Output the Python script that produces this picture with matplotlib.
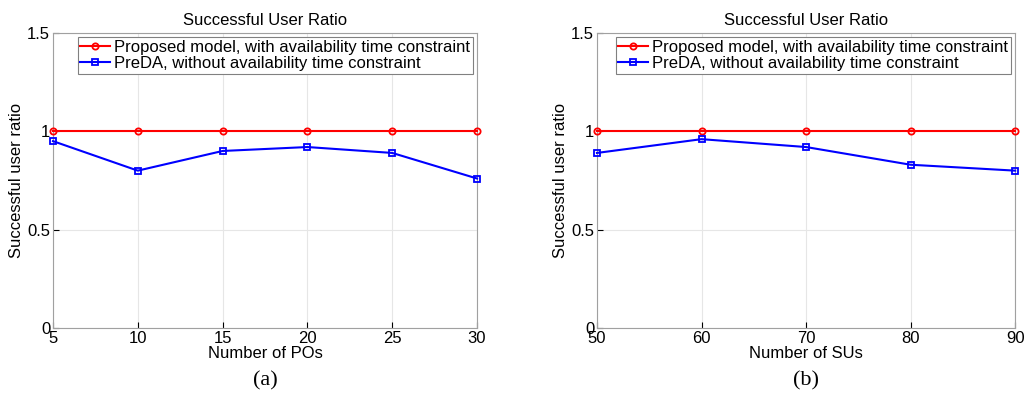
import matplotlib
matplotlib.use("Agg")
import matplotlib.pyplot as plt

plt.rcParams["font.family"] = ["Liberation Sans", "DejaVu Sans"]

pos_x = [5, 10, 15, 20, 25, 30]
pos_proposed = [1, 1, 1, 1, 1, 1]
pos_preda = [0.95, 0.80, 0.90, 0.92, 0.89, 0.76]

su_x = [50, 60, 70, 80, 90]
su_proposed = [1, 1, 1, 1, 1]
su_preda = [0.89, 0.96, 0.92, 0.83, 0.80]

fig = plt.figure(figsize=(10.25, 3.95), dpi=100)
ax1 = fig.add_axes([0.0517, 0.1696, 0.4137, 0.747])
ax2 = fig.add_axes([0.5824, 0.1696, 0.408, 0.747])

panels = [
    (ax1, pos_x, pos_proposed, pos_preda, "Number of POs", "(a)"),
    (ax2, su_x, su_proposed, su_preda, "Number of SUs", "(b)"),
]

for ax, x, prop, preda, xlabel, tag in panels:
    ax.plot(x, prop, color="red", marker="o", ms=4.5, mfc="none", mew=1.3,
            lw=1.5, clip_on=False, zorder=3,
            label="Proposed model, with availability time constraint")
    ax.plot(x, preda, color="blue", marker="s", ms=4.5, mfc="none", mew=1.3,
            lw=1.5, clip_on=False, zorder=3,
            label="PreDA, without availability time constraint")
    ax.set_xlim(x[0], x[-1])
    ax.set_ylim(0, 1.5)
    ax.set_xticks(x)
    ax.set_yticks([0, 0.5, 1, 1.5])
    ax.set_yticklabels(["0", "0.5", "1", "1.5"])
    ax.grid(True, color="#e6e6e6", lw=0.8)
    ax.tick_params(direction="in", labelsize=12, length=4, pad=2, colors="black")
    for s in ax.spines.values():
        s.set_color("#a0a0a0")
    ax.set_title("Successful User Ratio", fontsize=12, pad=6)
    ax.set_xlabel(xlabel, fontsize=12, labelpad=0)
    ax.set_ylabel("Successful user ratio", fontsize=12, labelpad=2)
    leg = ax.legend(loc="upper right", fontsize=12, fancybox=False,
                    edgecolor="#808080", borderpad=0.15, labelspacing=0.1,
                    handlelength=1.8, handletextpad=0.25, borderaxespad=0.25,
                    framealpha=1)
    leg.get_frame().set_linewidth(0.8)
    ax.text(0.5, -0.18, tag, transform=ax.transAxes, ha="center", va="center",
            fontsize=16, family=["Liberation Serif", "DejaVu Serif"])

fig.savefig("out.png", dpi=100)
